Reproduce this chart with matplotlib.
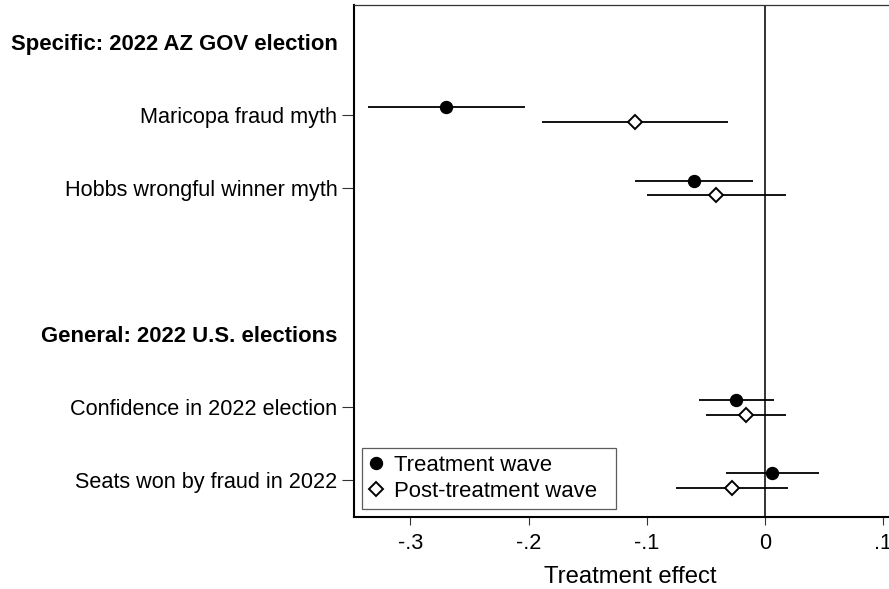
import matplotlib
matplotlib.use("Agg")
import matplotlib.pyplot as plt
from matplotlib.lines import Line2D
import numpy as np

plt.rcParams['font.family'] = ['Liberation Sans', 'DejaVu Sans']

# ---- data ----
header_specific = "Specific: 2022 AZ GOV election"
header_general = "General: 2022 U.S. elections"
outcomes = ["Maricopa fraud myth", "Hobbs wrongful winner myth",
            "Confidence in 2022 election", "Seats won by fraud in 2022"]

treat_est = [-0.270, -0.060, -0.024, 0.006]
treat_lo = [-0.336, -0.110, -0.056, -0.033]
treat_hi = [-0.203, -0.010, 0.008, 0.046]

post_est = [-0.110, -0.041, -0.016, -0.028]
post_lo = [-0.189, -0.100, -0.050, -0.075]
post_hi = [-0.031, 0.018, 0.018, 0.0195]

xticks = [-0.3, -0.2, -0.1, 0.0, 0.1]
xticklabels = ["-.3", "-.2", "-.1", "0", ".1"]
legend_labels = ["Treatment wave", "Post-treatment wave"]
xlabel = "Treatment effect"

# ---- layout ----
W, H = 889, 589
fig = plt.figure(figsize=(W / 100, H / 100), dpi=100)
x_left_px, x_zero_px, px_per_unit = 354, 764.7, 1181.0
xlim = (-0.3478, 0.12)
right_px = x_zero_px + xlim[1] * px_per_unit
top_px, bottom_px = 5, 517
ax = fig.add_axes([x_left_px / W, (H - bottom_px) / H,
                   (right_px - x_left_px) / W, (bottom_px - top_px) / H])

row_pos = [1, 2, 5, 6]
header_pos = [0, 4]
off = 0.1
fs = 15.6

ax.axvline(0, color='#333333', lw=1.4, zorder=1)

y_t = np.array(row_pos) - off
y_p = np.array(row_pos) + off
ax.hlines(y_t, treat_lo, treat_hi, color='black', lw=1.3, zorder=2)
ax.hlines(y_p, post_lo, post_hi, color='black', lw=1.3, zorder=2)
ax.plot(treat_est, y_t, 'o', color='black', ms=8.6, zorder=3)
ax.plot(post_est, y_p, 'D', mfc='white', mec='black', mew=1.4, ms=6.9, zorder=3)

ax.set_xlim(*xlim)
ax.set_ylim(6.5, -0.5)

ticks = header_pos[:1] + row_pos[:2] + header_pos[1:] + row_pos[2:]
labels = [header_specific] + outcomes[:2] + [header_general] + outcomes[2:]
ax.set_yticks(ticks)
ax.set_yticklabels(labels, fontsize=fs)
for t, lab in zip(ax.yaxis.get_major_ticks(), labels):
    if lab in (header_specific, header_general):
        t.tick1line.set_visible(False)
        t.label1.set_fontweight('bold')
        t.label1.set_fontsize(15.9)
ax.tick_params(axis='y', length=8.5, width=0.8, pad=3.4, color='#333333')

ax.set_xticks(xticks)
ax.set_xticklabels(xticklabels, fontsize=fs)
ax.tick_params(axis='x', length=5.8, width=0.8, pad=5.6, color='#333333')
ax.set_xlabel(xlabel, fontsize=17.2, labelpad=8.5)

for s in ['left', 'bottom']:
    ax.spines[s].set_linewidth(1.5)
    ax.spines[s].set_color('black')
ax.spines['top'].set_linewidth(0.9)
ax.spines['top'].set_color('#333333')
ax.spines['right'].set_visible(False)

handles = [Line2D([], [], ls='none', marker='o', color='black', ms=8.6),
           Line2D([], [], ls='none', marker='D', mfc='white', mec='black', mew=1.4, ms=6.9)]
ax_w = right_px - x_left_px
ax_h = bottom_px - top_px
lx0 = (362.3 - x_left_px) / ax_w
lw_ = (616 - 362.3) / ax_w
ly0 = (bottom_px - 509) / ax_h
leg = ax.legend(handles, legend_labels, loc='lower left',
                bbox_to_anchor=(lx0, ly0, lw_, 0.137), mode='expand',
                borderaxespad=0, fontsize=15.9, frameon=True, fancybox=False,
                edgecolor='#333333', borderpad=0.33, handlelength=0.55,
                handletextpad=0.55, labelspacing=0.22)
leg.get_frame().set_linewidth(0.9)

fig.savefig("out.png", dpi=100)
